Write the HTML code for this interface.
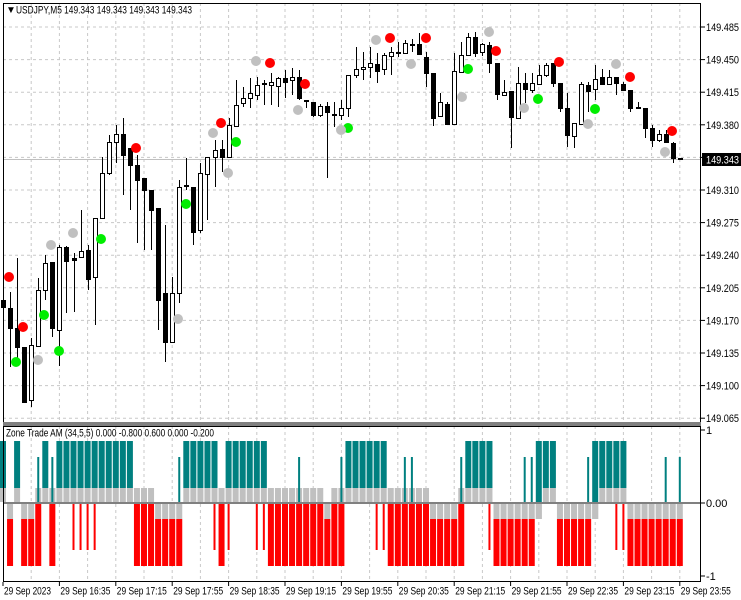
<!DOCTYPE html>
<html><head><meta charset="utf-8">
<style>
html,body{margin:0;padding:0;background:#fff;}
svg{display:block;font-family:"Liberation Sans",sans-serif;}
</style></head>
<body>
<svg id="s" width="741" height="600" viewBox="0 0 741 600" xmlns="http://www.w3.org/2000/svg">
<rect x="0" y="0" width="741" height="600" fill="#fff"/>
<g id="grid"></g>
<g id="ind"></g>
<g id="candles"></g>
<g id="dots"></g>
<g id="axes"></g>
</svg>
<script>
const NS="http://www.w3.org/2000/svg";
function el(p,t,a,txt){const e=document.createElementNS(NS,t);for(const k in a)e.setAttribute(k,a[k]);if(txt!==undefined)e.textContent=txt;document.getElementById(p).appendChild(e);return e;}
const X=i=>3+7.05*i;
for(let k=0;k<13;k++){const y=27+32.6*k;el('grid','line',{x1:3,x2:701,y1:y,y2:y,stroke:'#c8c8c8','stroke-dasharray':'3,3'});}
for(let k=1;k<25;k++){const x=X(4*k);if(x>700)break;el('grid','line',{x1:x,x2:x,y1:3,y2:423,stroke:'#c8c8c8','stroke-dasharray':'3,3'});el('grid','line',{x1:x,x2:x,y1:426,y2:582,stroke:'#c8c8c8','stroke-dasharray':'3,3'});}
el('grid','line',{x1:3,x2:701,y1:159.5,y2:159.5,stroke:'#c0c0c0'});
el('grid','line',{x1:3,x2:701,y1:503,y2:503,stroke:'#808080','stroke-width':2});
const L="T,R,T,R,R,Gt|F,T,Gt|F,T,T,T|r,T|r,T|r,T|r,T,T,T,T,T,G|F,G|F,G|F,R,R,R,t|R,T,T,T,T,T|r,G|F,T|r,T,T,T,T|r,T|r,G|F,G|F,G|F,G|F,Gt|F,G|F,G|F,G|F,R,G|F,Gt|F,T,T,T,T,T|r,T|r,G|F,G|F,Gt|F,Gt|F,G|F,G|F,R,R,R,R,Gt|F,T,T,T,T|r,R,R,R,R,t|R,t|R,Tg|g,T,T,R,R,R,R,t|R,Tg|g,T,T,T|r,T|r,R,R,R,R,R,t|R,R,t|R".split(',');
const TE='#008080',GR='#c0c0c0',RD='#ff0000';
L.forEach((c,i)=>{const x=X(i);const parts=c.split('|');const w=6,xl=x-3;
 parts.forEach(p=>{
  if(p==='T'){el('ind','rect',{x:xl,y:441,width:w,height:47,fill:TE});el('ind','rect',{x:xl,y:488,width:w,height:14,fill:GR});}
  else if(p==='Tg'){el('ind','rect',{x:xl,y:441,width:w,height:61,fill:TE});el('ind','rect',{x:xl,y:504,width:w,height:15,fill:GR});}
  else if(p==='G'){el('ind','rect',{x:xl,y:488,width:w,height:14,fill:GR});}
  else if(p==='Gt'){el('ind','rect',{x:xl,y:488,width:w,height:14,fill:GR});el('ind','rect',{x:x-1,y:457,width:2,height:45,fill:TE});}
  else if(p==='t'){el('ind','rect',{x:x-1,y:457,width:2,height:45,fill:TE});}
  else if(p==='R'){el('ind','rect',{x:xl,y:504,width:w,height:15,fill:GR});el('ind','rect',{x:xl,y:519,width:w,height:47,fill:RD});}
  else if(p==='F'){el('ind','rect',{x:xl,y:504,width:w,height:62,fill:RD});}
  else if(p==='r'){el('ind','rect',{x:x-1,y:504,width:2,height:46,fill:RD});}
  else if(p==='g'){el('ind','rect',{x:xl,y:504,width:w,height:15,fill:GR});}
 });
});
const C=[[300,307,290,325,0],[308,328,292,367,0],[328,347,258,360,0],[347,402,347,403,0],[345,400,338,407,1],[290,346,278,346,1],[263,290,255,300,1],[262,328,262,337,0],[247,330,245,366,1],[247,261,246,313,0],[258,260,253,312,0],[251,257,210,258,1],[250,279,245,290,0],[218,277,218,325,1],[173,218,157,218,1],[142,173,135,175,1],[134,142,125,163,1],[134,155,118,195,0],[148,165,148,210,0],[165,180,155,243,0],[178,190,178,250,0],[190,210,190,250,0],[208,300,208,330,0],[293,342,225,362,0],[293,342,277,342,1],[187,293,180,303,1],[185,186,158,190,0],[187,232,187,245,0],[173,230,163,233,1],[157,174,157,220,1],[150,157,140,187,1],[149,157,140,172,0],[125,157,118,158,1],[105,126,80,127,1],[98,103,87,107,1],[93,98,78,108,1],[85,95,77,100,1],[83,84,80,105,0],[82,85,73,105,1],[78,86,77,107,1],[78,82,70,98,0],[77,80,68,95,1],[77,98,70,100,0],[100,101,100,108,0],[102,115,102,117,0],[106,115,104,117,1],[106,112,102,178,0],[114,115,102,127,0],[108,115,100,120,1],[75,108,75,117,1],[69,75,47,78,1],[67,69,52,80,1],[63,67,47,78,1],[64,71,53,83,0],[55,69,53,75,1],[52,56,47,75,1],[52,53,42,57,0],[43,53,40,53,1],[44,45,39,52,0],[44,54,33,55,0],[57,73,52,87,0],[73,118,73,126,0],[102,116,93,117,1],[104,124,102,124,0],[71,124,53,125,1],[55,72,42,73,1],[37,55,33,56,1],[37,53,32,57,0],[44,52,43,56,1],[45,63,42,73,0],[63,94,63,100,0],[92,95,80,95,1],[91,117,91,148,0],[83,118,67,118,1],[83,89,73,103,0],[83,90,73,93,1],[75,84,65,85,1],[65,75,63,77,1],[63,83,63,87,0],[83,108,83,112,0],[108,135,93,147,0],[123,136,123,148,1],[84,124,82,125,1],[85,91,82,112,0],[79,89,65,100,1],[77,84,69,84,0],[77,84,70,85,1],[77,83,77,95,0],[84,90,82,90,0],[90,108,90,112,0],[107,108,102,108,0],[108,128,108,138,0],[128,140,125,147,0],[134,140,130,142,1],[134,142,130,143,0],[143,158,142,163,0],[158,159,158,159,0]];
C.forEach((c,i)=>{const x=Math.round(X(i))+0.5;
 el('candles','line',{x1:x,x2:x,y1:c[2],y2:c[3],stroke:'#000'});
 const h=Math.max(1,c[1]-c[0]);
 el('candles','rect',{x:x-2,y:c[0]+0.5,width:4,height:h,fill:c[4]?'#fff':'#000',stroke:'#000'});
});
const D=[['#f00',9,277],['#f00',23,327],['#f00',136,148],['#f00',221,123],['#f00',270,63],['#f00',305,84],['#f00',390,38],['#f00',426,38],['#f00',496,51],['#f00',559,62],['#f00',630,77],['#f00',672,131],
['#0e0',16,362],['#0e0',44,315],['#0e0',59,351],['#0e0',101,239],['#0e0',186,204],['#0e0',236,142],['#0e0',348,128],['#0e0',468,69],['#0e0',538,99],['#0e0',595,109],
['#c0c0c0',51,245],['#c0c0c0',73,233],['#c0c0c0',38,360],['#c0c0c0',178,319],['#c0c0c0',228,173],['#c0c0c0',213,133],['#c0c0c0',256,61],['#c0c0c0',298,110],['#c0c0c0',341,130],['#c0c0c0',376,40],['#c0c0c0',411,64],['#c0c0c0',462,97],['#c0c0c0',489,32],['#c0c0c0',524,108],['#c0c0c0',588,124],['#c0c0c0',616,64],['#c0c0c0',665,152]];
D.forEach(d=>el('dots','circle',{cx:d[1],cy:d[2],r:5,fill:d[0]}));
el('axes','rect',{x:3.5,y:3.5,width:697,height:419,fill:'none',stroke:'#000'});
el('axes','rect',{x:3.5,y:426.5,width:697,height:155,fill:'none',stroke:'#000'});
el('axes','rect',{x:3,y:422,width:698,height:4,fill:'#808080'});
const P=['149.485','149.450','149.415','149.380',null,'149.310','149.275','149.240','149.205','149.170','149.135','149.100','149.065'];
P.forEach((p,k)=>{const y=27+32.6*k;el('axes','line',{x1:701,x2:705,y1:y,y2:y,stroke:'#000'});if(p)el('axes','text',{x:706,y:y+4,'font-size':11,fill:'#000',textLength:33,lengthAdjust:'spacingAndGlyphs'},p);});
el('axes','rect',{x:702,y:153,width:39,height:13,fill:'#000'});
el('axes','text',{x:706,y:163.5,'font-size':11,fill:'#fff',textLength:33,lengthAdjust:'spacingAndGlyphs'},'149.343');
[[430,'1'],[503,'0.00'],[576,'-1']].forEach(a=>{el('axes','line',{x1:701,x2:705,y1:a[0],y2:a[0],stroke:'#000'});el('axes','text',{x:706,y:a[0]+4,'font-size':11,fill:'#000'},a[1]);});
const T=['29 Sep 2023','29 Sep 16:35','29 Sep 17:15','29 Sep 17:55','29 Sep 18:35','29 Sep 19:15','29 Sep 19:55','29 Sep 20:35','29 Sep 21:15','29 Sep 21:55','29 Sep 22:35','29 Sep 23:15','29 Sep 23:55'];
T.forEach((t,k)=>{const x=X(8*k);el('axes','line',{x1:x,x2:x,y1:582,y2:586,stroke:'#000'});el('axes','text',{x:x+1,y:594.5,'font-size':11,fill:'#000',textLength:k==0?47:50,lengthAdjust:'spacingAndGlyphs'},t);});
el('axes','text',{x:6,y:13,'font-size':10,fill:'#000'},'\u25BC');
el('axes','text',{x:16,y:13.5,'font-size':11,fill:'#000',textLength:176,lengthAdjust:'spacingAndGlyphs'},'USDJPY,M5  149.343 149.343 149.343 149.343');
el('axes','text',{x:6,y:436.5,'font-size':11,fill:'#000',textLength:208,lengthAdjust:'spacingAndGlyphs'},'Zone Trade AM (34,5,5) 0.000 -0.800 0.600 0.000 -0.200');
</script>
</body></html>
